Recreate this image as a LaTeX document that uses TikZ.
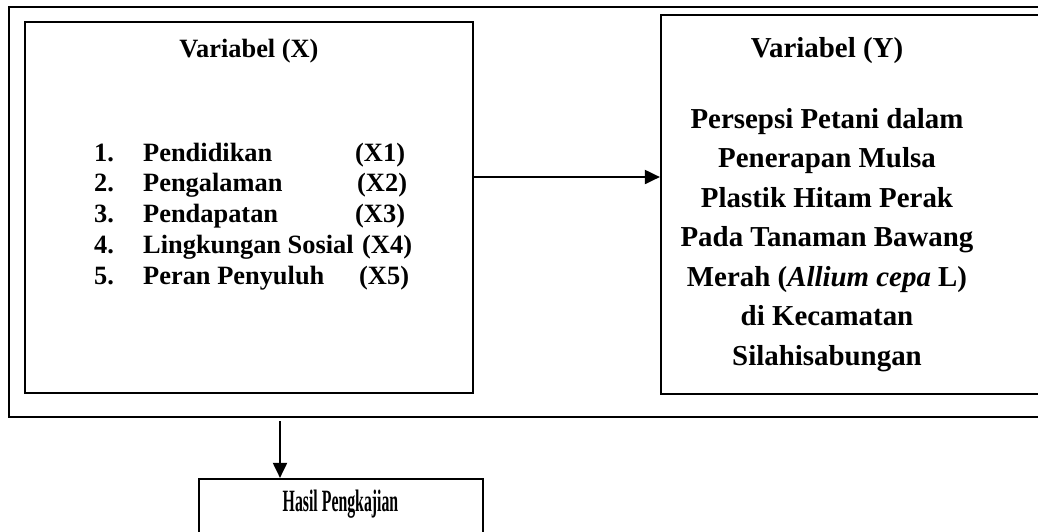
\documentclass[tikz,border=0pt]{standalone}
\usepackage{fontspec}
\setmainfont{Liberation Serif}
\usetikzlibrary{arrows.meta, positioning}
\tikzset{
  % kotak dengan garis tebal
  kotak/.style={draw=black, line width=2.2pt, inner sep=0pt},
  % teks kotak kiri (variabel X)
  teksx/.style={font=\fontsize{26.4}{30.7}\selectfont\bfseries, inner sep=0pt, anchor=base},
  % teks kotak kanan (variabel Y)
  teksy/.style={font=\fontsize{28.9}{39.5}\selectfont\bfseries, inner sep=0pt, align=center},
  % panah penghubung
  panah/.style={-{Triangle[length=15pt, width=14pt]}, line width=2pt},
}

\begin{document}
\begin{tikzpicture}[x=1pt, y=-1pt]
  \useasboundingbox (0,0) rectangle (1038,531);
  \clip (0,0) rectangle (1038,531);
  % bingkai luar dan kotak-kotak
  \node[kotak, minimum width=1051pt, minimum height=410pt] (bingkai) at (534.5,212) {};
  \node[kotak, minimum width=448pt, minimum height=371pt] (varx) at (249,207.5) {};
  \node[kotak, minimum width=389pt, minimum height=379pt] (vary) at (855.5,204.5) {};
  \node[kotak, minimum width=284pt, minimum height=91pt] (hasil) at (341,524.5) {};
  % isi kotak X
  \node[teksx] (judulx) at (249,57) {Variabel (X)};
  \foreach \no/\nama/\kode/\kx [count=\i from 0] in {1./Pendidikan/(X1)/355, 2./Pengalaman/(X2)/357,
      3./Pendapatan/(X3)/355, 4./Lingkungan Sosial/(X4)/362, 5./Peran Penyuluh/(X5)/359}{
    \node[teksx, anchor=base west] (no\i) at (94,161+30.75*\i) {\no};
    \node[teksx, anchor=base west] (nama\i) at (143,161+30.75*\i) {\nama};
    \node[teksx, anchor=base west] (kode\i) at (\kx,161+30.75*\i) {\kode};
  }
  % isi kotak Y
  \node[teksy, anchor=base] (juduly) at (827,57) {Variabel (Y)};
  \node[teksy] (isiy) at (827,240) {Persepsi Petani dalam\\ Penerapan Mulsa\\ Plastik Hitam Perak\\
    Pada Tanaman Bawang\\ Merah (\textit{Allium cepa} L)\\ di Kecamatan\\ Silahisabungan};
  % hasil
  \node[inner sep=0pt, anchor=base, font=\fontsize{31}{31}\selectfont\bfseries] (judulh) at (340.5,511)
    {\scalebox{0.51}[1]{Hasil Pengkajian}};
  % panah
  \draw[panah] ([yshift=30.5pt]varx.east) coordinate (a) -- (vary.west |- a);
  \coordinate (turun) at (280,421);
  \draw[panah] (turun) -- (turun |- hasil.north);
\end{tikzpicture}
\end{document}
